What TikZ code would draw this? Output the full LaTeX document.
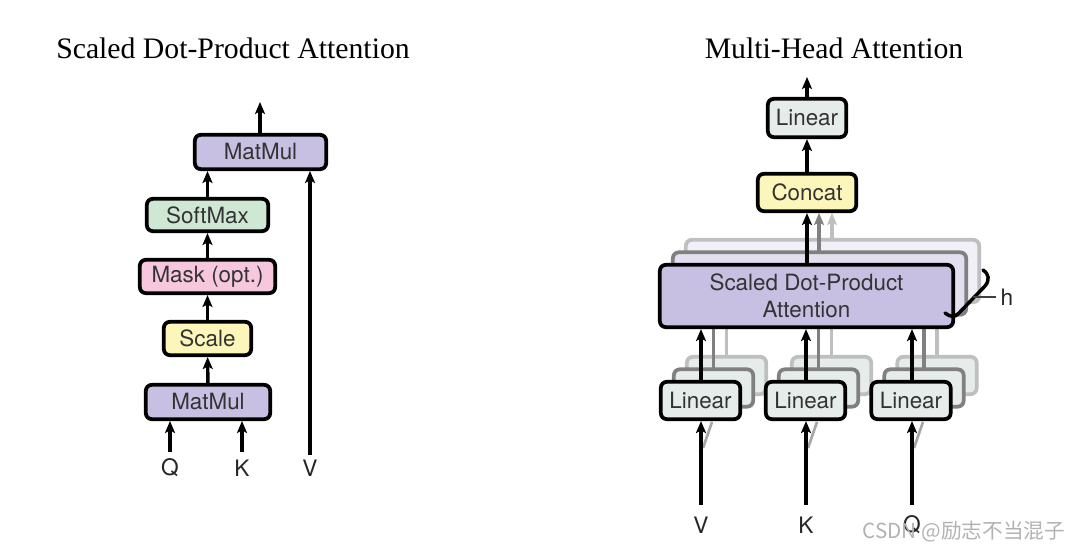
\documentclass[tikz,border=0pt]{standalone}
\usepackage{fontspec}
\setmainfont{TeX Gyre Heros}
\newfontfamily\titrefont{Liberation Serif}
\newfontfamily\cjkfont{Noto Sans CJK SC}
\usetikzlibrary{arrows.meta}
\definecolor{lavande}{RGB}{199,192,226}
\definecolor{vertclair}{RGB}{206,232,212}
\definecolor{rose}{RGB}{247,200,221}
\definecolor{jaune}{RGB}{252,246,187}
\definecolor{grisclair}{RGB}{230,236,234}
\begin{document}
\begin{tikzpicture}[x=0.75pt, y=-0.75pt]
				\tikzset{boite/.style={draw=black, line width=2.8pt, rounded corners=4.5pt, inner sep=0pt, minimum height=25pt, text=black!80, font=\fontsize{16.8}{20}\selectfont},
				fleche/.style={-{Stealth[length=9pt, width=7.5pt, inset=2pt]}, line width=2.6pt},
				ombre/.style={boite, draw=black!#1, fill=lavande!#1!white},
				ombrelin/.style={boite, draw=black!#1, fill=grisclair, minimum width=59.5pt, minimum height=28pt},
				etiq/.style={font=\fontsize{17}{20}\selectfont, text=black!85},
				titre/.style={font=\titrefont\fontsize{22.3}{26}\selectfont}};
				\useasboundingbox (0,0) rectangle (1065,552);

				\node[titre] (t1) at (233,48) {Scaled Dot-Product Attention};
				\node[titre] (t2) at (834,48) {Multi-Head Attention};

				\node[boite, fill=lavande, minimum width=98.5pt, minimum height=25.75pt] (mm2) at (260.5,152) {MatMul};
				\node[boite, fill=vertclair, minimum width=91pt, minimum height=24.25pt] (soft) at (207.5,215) {SoftMax};
				\node[boite, fill=rose, minimum width=101.5pt] (mask) at (207.5,276.5) {Mask (opt.)};
				\node[boite, fill=jaune, minimum width=65.5pt] (scale) at (207.5,338.5) {Scale};
				\node[boite, fill=lavande, minimum width=93.25pt, minimum height=25.75pt] (mm1) at (208,402) {MatMul};
				\node[etiq] (q1) at (170,468) {Q};
				\node[etiq] (k1) at (242,468) {K};
				\node[etiq] (v1) at (310,468) {V};
				\coordinate (sortie1) at (260,102);

				\draw[fleche] (mm1) -- (scale);
				\draw[fleche] (scale) -- (mask);
				\draw[fleche] (mask) -- (soft);
				\draw[fleche] (soft.north) -- (soft.north |- mm2.south);
				\draw[fleche] (mm2.north -| sortie1) -- (sortie1);
				\draw[fleche] (170,452) -- (170,421);
				\draw[fleche] (242,452) -- (242,421);
				\draw[fleche] (310,455) -- (310,171);

				\foreach \dx/\dy/\c in {26/-25/25, 13/-12.5/50}{
					\draw[fleche, black!\c] (806+\dx,300+\dy) -- (806+\dx,213);
					\node[ombre=\c, minimum width=220pt, minimum height=46.75pt] at (806.5+\dx,296+\dy) {};
					\foreach \x in {700.5,805.5,911}{
						\draw[line width=2.4pt, black!\c] (\x+\dx,400+\dy) -- (\x+\dx,320+\dy);
						\node[ombrelin=\c] at (\x+\dx,400.5+\dy) {};
					}
				}

				\node[boite, fill=grisclair, minimum width=58.75pt, minimum height=28.75pt] (lin) at (807,118) {Linear};
				\node[boite, fill=jaune, minimum width=73.75pt, minimum height=28pt] (concat) at (807,192.5) {Concat};
				\node[boite, fill=lavande, minimum width=220pt, minimum height=46.75pt, align=center] (sdpa) at (806.5,296) {Scaled Dot-Product\\Attention};
				\node[boite, fill=grisclair, minimum width=59.5pt, minimum height=28pt] (linv) at (700.5,400.5) {Linear};
				\node[boite, fill=grisclair, minimum width=59.5pt, minimum height=28pt] (link) at (805.5,400.5) {Linear};
				\node[boite, fill=grisclair, minimum width=59.5pt, minimum height=28pt] (linq) at (911,400.5) {Linear};
				\node[etiq] (v2) at (701,525) {V};
				\node[etiq] (k2) at (806,525) {K};
				\node[etiq] (q2) at (912,525) {Q};
				\node[etiq] (h) at (1007,297) {h};
				\coordinate (sortie2) at (807,77);
				\coordinate (accolade) at (973,297);

				\draw[fleche] (sdpa.north -| concat) -- (concat);
				\draw[fleche] (concat) -- (lin);
				\draw[fleche] (lin) -- (sortie2);
				\foreach \n/\x in {linv/701, link/806, linq/912}{
					\draw[line width=2pt, black!35] (\x+2,448) -- (\x+11,422);
					\draw[fleche] (\x,505) -- (\n.south -| \x,0);
					\draw[fleche] (\n.north -| \x,0) -- (sdpa.south -| \x,0);
				}
				\draw[line width=2.6pt, line cap=round] (983,270) .. controls (989,274) and (990,280) .. (985,286) -- (959,313) .. controls (955,318) and (950,317) .. (945,313);
				\draw[line width=1.5pt, black!75] (accolade) -- (h.west);

				\node[anchor=west, text=black!30, font=\cjkfont\fontsize{15.5}{18}\selectfont] (filigrane) at (858,532) {CSDN @励志不当混子};
			\end{tikzpicture}
\end{document}
